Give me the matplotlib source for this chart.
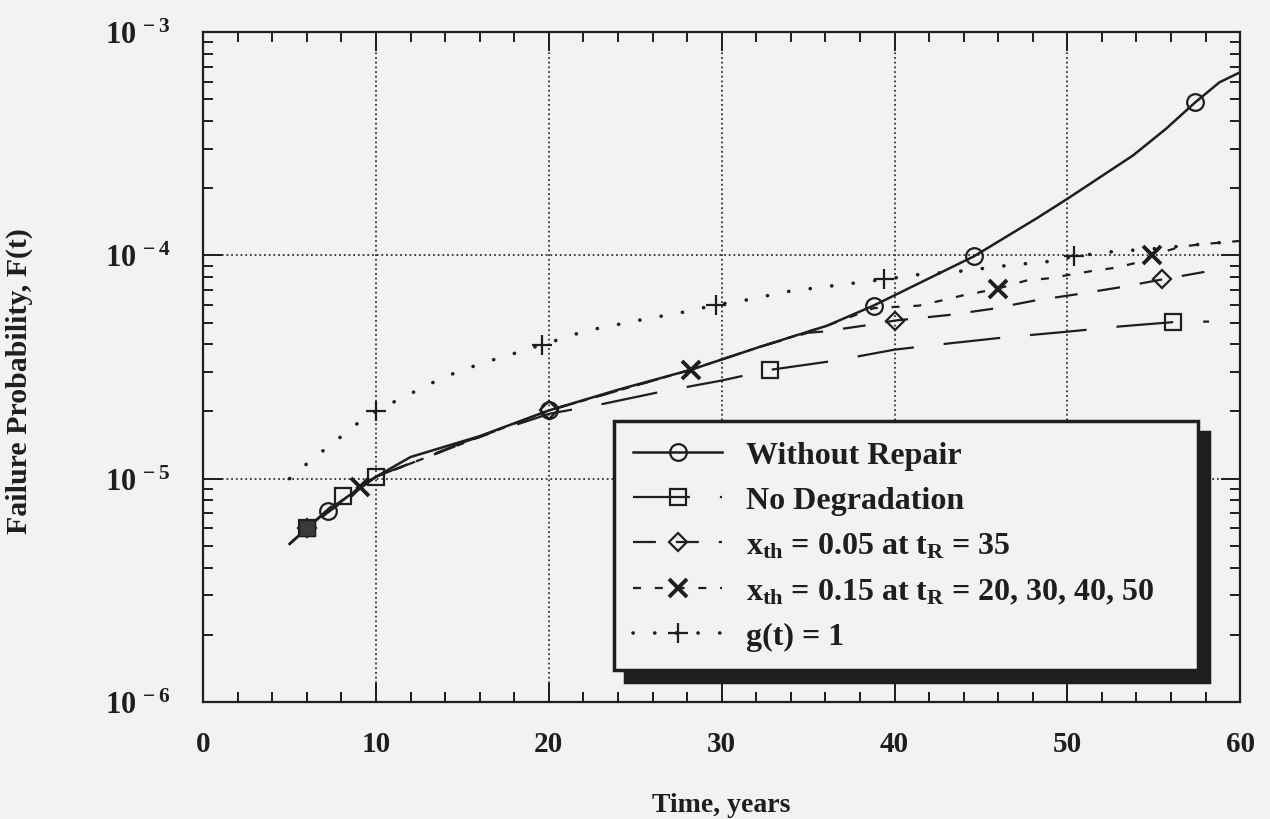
import matplotlib
matplotlib.use('Agg')
import matplotlib.pyplot as plt
from matplotlib.ticker import (FixedLocator, FixedFormatter, MultipleLocator,
                               LogLocator, NullFormatter)

# fonts: Times-like bold everywhere, mathtext too (for 10^-n and the subscripts)
plt.rcParams['font.family'] = ['Liberation Serif', 'DejaVu Serif']
plt.rcParams['font.weight'] = 'bold'
plt.rcParams['axes.labelweight'] = 'bold'
plt.rcParams['mathtext.fontset'] = 'custom'
plt.rcParams['mathtext.rm'] = 'Liberation Serif:bold'
plt.rcParams['mathtext.it'] = 'Liberation Serif:bold'
plt.rcParams['mathtext.bf'] = 'Liberation Serif:bold'

ink = '#1e1e1e'
bg = '#f2f2f2'

# ---- data (time in years, failure probability) ----
wr_t = [5, 6, 7.2, 10, 12, 16, 20, 24, 28.2, 32.2, 36.1, 38.8, 41.5, 44.6,
        48.2, 50, 53.8, 55.7, 57.4, 58.8, 60]
wr_F = [5.1e-6, 6.0e-6, 7.2e-6, 1.02e-5, 1.25e-5, 1.55e-5, 2.02e-5, 2.5e-5,
        3.07e-5, 3.89e-5, 4.84e-5, 5.96e-5, 7.55e-5, 9.9e-5, 1.46e-4, 1.79e-4,
        2.8e-4, 3.68e-4, 4.84e-4, 5.95e-4, 6.6e-4]
wr_mk = [2, 6, 11, 13, 18]

nd_t = [5, 6, 8.1, 10, 15, 20, 23, 26.5, 30, 32.8, 36.5, 40, 43, 46.5, 50,
        53, 56.1, 58.2]
nd_F = [5.1e-6, 6.0e-6, 8.4e-6, 1.02e-5, 1.45e-5, 1.95e-5, 2.15e-5, 2.45e-5,
        2.75e-5, 3.07e-5, 3.37e-5, 3.78e-5, 4.02e-5, 4.3e-5, 4.55e-5, 4.8e-5,
        5.02e-5, 5.05e-5]
nd_mk = [1, 2, 3, 9, 16]

x05_t = [5, 6, 10, 20, 28.2, 32.2, 35, 35.8, 38.3, 40, 43.1, 45.6, 48.1,
         50.6, 53.1, 55.5, 58.2, 59]
x05_F = [5.1e-6, 6.0e-6, 1.02e-5, 2.02e-5, 3.07e-5, 3.89e-5, 4.5e-5, 4.55e-5,
         4.85e-5, 5.1e-5, 5.4e-5, 5.75e-5, 6.27e-5, 6.7e-5, 7.2e-5, 7.8e-5,
         8.5e-5, 8.7e-5]
x05_mk = [1, 3, 9, 15]

x15_t = [5, 6, 9.1, 10, 20, 28.2, 32.2, 36.1, 38.8, 41.4, 42.7, 43.9, 46.0,
         47.6, 49, 50.2, 51.4, 52.8, 54.1, 54.9, 56.5, 57.7, 58.9, 60]
x15_F = [5.1e-6, 6.0e-6, 9.2e-6, 1.02e-5, 2.02e-5, 3.07e-5, 3.89e-5, 4.84e-5,
         5.8e-5, 5.95e-5, 6.27e-5, 6.6e-5, 7.1e-5, 7.7e-5, 7.9e-5, 8.2e-5,
         8.5e-5, 8.8e-5, 9.3e-5, 1.0e-4, 1.09e-4, 1.12e-4, 1.14e-4, 1.16e-4]
x15_mk = [2, 5, 12, 19]

g_t = [5, 6.4, 7.6, 8.8, 10, 11.3, 12.5, 13.8, 15, 16.4, 17.6, 18.9, 19.6,
       21.4, 22.7, 25.1, 27.7, 29.7, 31.4, 33.9, 36.4, 39.4, 41.4, 43.9, 46.5,
       49, 50.4, 52.7, 55, 57.7, 60]
g_F = [1.0e-5, 1.24e-5, 1.46e-5, 1.74e-5, 2.0e-5, 2.26e-5, 2.51e-5, 2.82e-5,
       3.06e-5, 3.34e-5, 3.55e-5, 3.84e-5, 3.96e-5, 4.41e-5, 4.68e-5, 5.1e-5,
       5.55e-5, 6.0e-5, 6.3e-5, 6.9e-5, 7.3e-5, 7.8e-5, 8.2e-5, 8.5e-5, 9.0e-5,
       9.4e-5, 9.9e-5, 1.04e-4, 1.07e-4, 1.12e-4, 1.16e-4]
g_mk = [4, 12, 17, 21, 26]

labels = ['Without Repair', 'No Degradation',
          r'x$_{\rm th}$ = 0.05 at t$_{\rm R}$ = 35',
          r'x$_{\rm th}$ = 0.15 at t$_{\rm R}$ = 20, 30, 40, 50',
          'g(t) = 1']

y_ticks = [1e-6, 1e-5, 1e-4, 1e-3]
y_ticklabels = [r'$10^{\,-6}$', r'$10^{\,-5}$', r'$10^{\,-4}$', r'$10^{\,-3}$']

fig = plt.figure(figsize=(12.7, 8.2), dpi=100, facecolor=bg)
ax = fig.add_axes([0.16, 0.1427, 0.8165, 0.8171], facecolor=bg)

ax.plot(wr_t, wr_F, '-', color=ink, lw=1.8, marker='o', ms=12, mfc='none',
        mec=ink, mew=1.6, markevery=wr_mk, label=labels[0])
ax.plot(nd_t, nd_F, color=ink, lw=1.6, dashes=(25.6, 13.5), marker='s', ms=12,
        mfc='none', mec=ink, mew=1.6, markevery=nd_mk, label=labels[1])
ax.plot(x05_t, x05_F, color=ink, lw=1.6, dashes=(10.3, 9), marker='D', ms=9,
        mfc='none', mec=ink, mew=1.6, markevery=x05_mk, label=labels[2])
ax.plot(x15_t, x15_F, color=ink, lw=1.6, dashes=(3.6, 6.2), marker='x', ms=13,
        mec=ink, mew=2.8, markevery=x15_mk, label=labels[3])
ax.plot(g_t, g_F, color=ink, lw=2.6, dashes=(0.05, 5.95), dash_capstyle='round',
        marker='+', ms=14, mec=ink, mew=1.6, markevery=g_mk, label=labels[4])
# all curves start together: overlapping marks give a dark square at t = 6
ax.plot(nd_t[1], nd_F[1], 's', ms=12, color='#3a3a3a', mec=ink)

ax.set_yscale('log')
ax.set_xlim(0, 60)
ax.set_ylim(1e-6, 1e-3)

ax.xaxis.set_major_locator(MultipleLocator(10))
ax.xaxis.set_minor_locator(MultipleLocator(2))
ax.yaxis.set_major_locator(FixedLocator(y_ticks))
ax.yaxis.set_major_formatter(FixedFormatter(y_ticklabels))
ax.yaxis.set_minor_locator(LogLocator(base=10, subs=range(2, 10)))
ax.yaxis.set_minor_formatter(NullFormatter())

ax.tick_params(which='both', direction='in', top=True, right=True,
               colors=ink, width=1.4)
ax.tick_params(which='major', length=14)
ax.tick_params(which='minor', length=7)
ax.tick_params(axis='x', labelsize=21, pad=20)
ax.tick_params(axis='y', labelsize=22, pad=24)

ax.grid(True, which='major', linestyle=(0, (1, 1.6)), color='#333333', lw=1.3)
for s in ax.spines.values():
    s.set_linewidth(1.6)
    s.set_color(ink)

ax.set_xlabel('Time, years', fontsize=20, fontweight='bold', color=ink)
ax.set_ylabel('Failure Probability, F(t)', fontsize=21.5, fontweight='bold', color=ink)
ax.xaxis.set_label_coords(0.5, -0.134)
ax.yaxis.set_label_coords(-0.164, 0.48)

leg = ax.legend(loc='upper left', bbox_to_anchor=(0.396, 0.052, 0.5635, 0.367),
                mode='expand', borderaxespad=0, fontsize=23, handlelength=2.8,
                handletextpad=0.75, labelspacing=0.5, borderpad=0.6,
                numpoints=1, fancybox=False,
                shadow={'ox': 8, 'oy': -8, 'color': ink, 'alpha': 1})
fr = leg.get_frame()
fr.set_edgecolor(ink)
fr.set_linewidth(2.5)
fr.set_facecolor(bg)
fr.set_alpha(1)
for t in leg.get_texts():
    t.set_color(ink)

fig.savefig('out.png', dpi=100, facecolor=bg)
